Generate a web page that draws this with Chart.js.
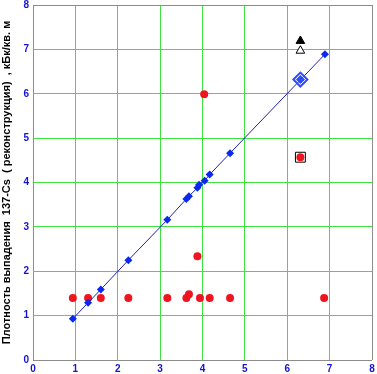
<!DOCTYPE html>
<html>
<head>
<meta charset="utf-8">
<script src="https://cdn.jsdelivr.net/npm/chart.js@4"></script>
<style>
  html, body { margin: 0; padding: 0; background: #fff; overflow: hidden; }
  #wrap { position: absolute; left: 0; top: -5px; width: 381px; height: 379px; }
</style>
</head>
<body>
<div id="wrap"><canvas id="chart"></canvas></div>
<script>
// reconstruction line (blue diamonds)
var lineX = [0.94, 1.30, 1.60, 2.25, 3.17, 3.62, 3.68, 3.88, 3.92, 4.05, 4.17, 4.65, 6.89];
var lineY = [0.93, 1.29, 1.59, 2.25, 3.16, 3.63, 3.69, 3.88, 3.95, 4.04, 4.18, 4.66, 6.89];

// measured points (red circles)
var measX = [0.94, 1.30, 1.60, 2.25, 3.17, 3.62, 3.68, 3.94, 4.17, 4.65, 6.87, 3.88, 4.04];
var measY = [1.40, 1.40, 1.40, 1.40, 1.40, 1.40, 1.48, 1.40, 1.40, 1.40, 1.40, 2.34, 5.99];

// highlighted points
var bigDiamond = { x: 6.31, y: 6.32 };
var boxedPoint = { x: 6.31, y: 4.57 };
var triFilled = { x: 6.31, y: 7.19 };
var triOpen = { x: 6.31, y: 6.97 };

var tickLabels = ['0', '1', '2', '3', '4', '5', '6', '7', '8'];
var yTitle = 'Плотность выпадения  137-Cs  ( реконструкция)  , кБк/кв. м';

function pts(xs, ys) {
    return xs.map((x, i) => ({ x: x, y: ys[i] }));
}

var gridColor = function (ctx) {
    var v = ctx.tick.value;
    return (v === 0 || v === 8) ? '#8c8c8c' : '#40e040';
};

var tickFont = { family: 'Liberation Sans', size: 10, weight: 'bold' };

var ctx = document.getElementById('chart').getContext('2d');

// note: chart.js paints dataset 0 last, so top-most marks go first
var myChart = new Chart(ctx, {
    type: 'scatter',
    data: {
        datasets: [
            {
                data: [triFilled],
                pointStyle: 'triangle',
                pointRadius: 5,
                backgroundColor: '#000',
                borderColor: '#000',
                borderWidth: 1
            },
            {
                data: [triOpen],
                pointStyle: 'triangle',
                pointRadius: 5,
                backgroundColor: '#fff',
                borderColor: '#000',
                borderWidth: 1
            },
            {
                data: [bigDiamond],
                pointStyle: 'rectRot',
                pointRadius: 4,
                backgroundColor: '#2a4dff',
                borderColor: '#2a4dff',
                borderWidth: 1
            },
            {
                data: [bigDiamond],
                pointStyle: 'rectRot',
                pointRadius: 7,
                backgroundColor: 'rgba(0,0,0,0)',
                borderColor: '#2a4dff',
                borderWidth: 2
            },
            {
                data: [boxedPoint],
                pointStyle: 'circle',
                pointRadius: 4,
                backgroundColor: '#f0141e',
                borderWidth: 0
            },
            {
                data: [boxedPoint],
                pointStyle: 'rect',
                pointRadius: 7,
                backgroundColor: '#fff',
                borderColor: '#000',
                borderWidth: 1
            },
            {
                data: pts(lineX, lineY),
                showLine: true,
                borderColor: '#1e1eb4',
                borderWidth: 1,
                pointStyle: 'rectRot',
                pointRadius: 4,
                backgroundColor: '#0a28f0',
                pointBorderWidth: 0
            },
            {
                data: pts(measX, measY),
                pointStyle: 'circle',
                pointRadius: 4,
                backgroundColor: '#f0141e',
                borderWidth: 0
            }
        ]
    },
    options: {
        responsive: true,
        maintainAspectRatio: false,
        animation: false,
        layout: {
            padding: { left: 0, right: 5, top: 4, bottom: 0 }
        },
        plugins: {
            legend: { display: false },
            tooltip: { enabled: false }
        },
        scales: {
            x: {
                type: 'linear',
                min: 0,
                max: 8,
                afterFit: function (s) { s.height = 14; },
                border: { display: false },
                grid: { color: gridColor, lineWidth: 1, drawTicks: false },
                ticks: {
                    stepSize: 1,
                    padding: 3,
                    color: '#1414d2',
                    font: tickFont,
                    callback: function (v) { return tickLabels[v]; }
                }
            },
            y: {
                type: 'linear',
                min: 0,
                max: 8,
                afterFit: function (s) { s.width = 33; },
                border: { display: false },
                grid: { color: gridColor, lineWidth: 1, drawTicks: false },
                ticks: {
                    stepSize: 1,
                    padding: 4,
                    color: '#1414d2',
                    font: tickFont,
                    callback: function (v) { return tickLabels[v]; }
                },
                title: {
                    display: true,
                    text: yTitle,
                    color: '#000',
                    padding: { top: 0, bottom: 5 },
                    font: { family: 'Liberation Sans', size: 11, weight: 'bold' }
                }
            }
        }
    }
});
</script>
</body>
</html>
